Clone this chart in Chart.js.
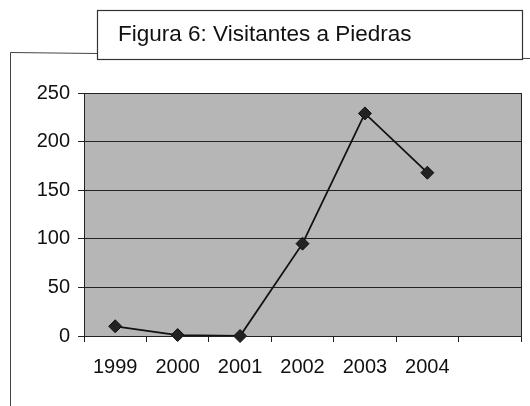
<!DOCTYPE html>
<html>

<head>
    <meta charset="utf-8">
    <script src="https://cdn.jsdelivr.net/npm/chart.js@4"></script>
    <style>
        body { margin: 0; background: #fff; }
    </style>
</head>

<body>
    <div style="width: 530px; height: 406px;">
        <canvas id="wykres" width="530" height="406"></canvas>
    </div>
    <script>
        // dane (ostatnia kategoria pusta, jak w oryginale)
        const anos = ["1999", "2000", "2001", "2002", "2003", "2004", ""];
        const visitantes = [10, 1, 0, 95, 229, 168, null];
        const tytul = "Figura 6: Visitantes a Piedras";
        const czcionka = "'Liberation Sans', Arial, sans-serif";

        // ramki, tytuł i tło obszaru wykresu
        const ramki = {
            id: "ramki",
            beforeDraw(chart) {
                const c = chart.ctx;
                const a = chart.chartArea;
                c.save();
                c.fillStyle = "#fff";
                c.fillRect(0, 0, chart.width, chart.height);
                // zewnętrzna ramka
                c.strokeStyle = "#444";
                c.lineWidth = 1;
                c.beginPath();
                c.moveTo(10.5, 406);
                c.lineTo(10.5, 52.5);
                c.lineTo(530, 58.5);
                c.stroke();
                // tło obszaru wykresu
                c.fillStyle = "#b6b6b6";
                c.fillRect(a.left, a.top, a.right - a.left, a.bottom - a.top);
                c.restore();
            },
            afterDraw(chart) {
                const c = chart.ctx;
                const a = chart.chartArea;
                c.save();
                c.strokeStyle = "#222";
                c.lineWidth = 1;
                c.strokeRect(a.left + 0.5, a.top + 0.5, a.right - a.left, a.bottom - a.top);
                // pole tytułu
                c.fillStyle = "#fff";
                c.fillRect(97, 10, 425, 49);
                c.strokeStyle = "#333";
                c.lineWidth = 1.2;
                c.strokeRect(97.5, 10.5, 425, 49);
                c.fillStyle = "#111";
                c.font = "22.5px " + czcionka;
                c.textAlign = "left";
                c.textBaseline = "alphabetic";
                c.fillText(tytul, 118, 41);
                c.restore();
            }
        };

        const dane = {
            labels: anos,
            datasets: [
                {
                    label: "Visitantes",
                    data: visitantes,
                    borderColor: "#111",
                    borderWidth: 1.8,
                    backgroundColor: "#222",
                    pointStyle: "rectRot",
                    pointRadius: 6.5,
                    pointBorderColor: "#111",
                    pointBorderWidth: 1,
                    tension: 0,
                    clip: false
                }
            ]
        };

        const ctx = document.getElementById("wykres").getContext("2d");
        const wykres = new Chart(ctx, {
            type: "line",
            data: dane,
            options: {
                responsive: false,
                animation: false,
                layout: { padding: { top: 93, right: 9, left: 0, bottom: 0 } },
                plugins: {
                    legend: { display: false },
                    title: { display: false },
                    tooltip: { enabled: false }
                },
                scales: {
                    x: {
                        offset: true,
                        afterFit(s) { s.height = 70; },
                        grid: {
                            offset: true,
                            drawOnChartArea: false,
                            drawTicks: true,
                            tickLength: 6,
                            color: "#222"
                        },
                        border: { color: "#222", width: 1 },
                        ticks: {
                            color: "#111",
                            font: { family: czcionka, size: 20 },
                            padding: 13,
                            maxRotation: 0,
                            autoSkip: false
                        }
                    },
                    y: {
                        min: 0,
                        max: 250,
                        afterFit(s) { s.width = 84; },
                        grid: {
                            color: "#222",
                            drawTicks: true,
                            tickLength: 6
                        },
                        border: { color: "#222", width: 1 },
                        ticks: {
                            stepSize: 50,
                            color: "#111",
                            font: { family: czcionka, size: 20 },
                            padding: 8
                        }
                    }
                }
            },
            plugins: [ramki]
        });
    </script>
</body>

</html>
